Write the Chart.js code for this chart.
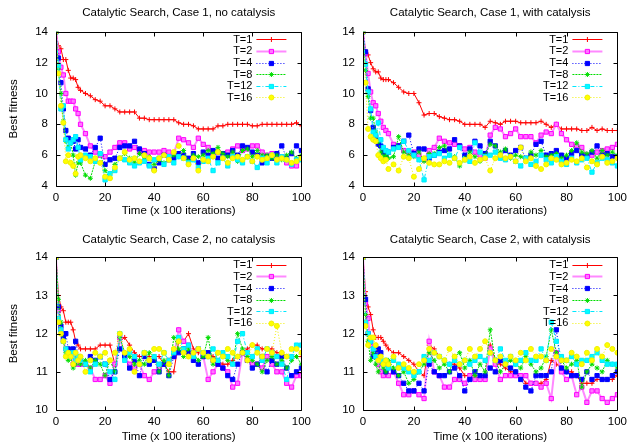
<!DOCTYPE html>
<html>
<head>
<meta charset="utf-8">
<script src="https://cdn.jsdelivr.net/npm/chart.js@4.4.1/dist/chart.umd.min.js"></script>
<style>
  html, body { margin: 0; padding: 0; background: #fff; }
  #wrap { position: relative; width: 632px; height: 444px; overflow: hidden; }
  canvas { position: absolute; }
</style>
</head>
<body>
<div id="wrap">
  <canvas id="p1" width="316" height="222" style="left:0;top:0"></canvas>
  <canvas id="p2" width="316" height="222" style="left:316px;top:0"></canvas>
  <canvas id="p3" width="316" height="222" style="left:0;top:222px"></canvas>
  <canvas id="p4" width="316" height="222" style="left:316px;top:222px"></canvas>
</div>
<script>
// time axis (x 100 iterations)
const xs = [0, 1, 2, 3, 4, 5, 6, 7, 8, 9, 10,
  12, 14, 16, 18, 20, 22, 24, 26, 28, 30, 32, 34, 36, 38, 40,
  42, 44, 46, 48, 50, 52, 54, 56, 58, 60, 62, 64, 66, 68, 70,
  72, 74, 76, 78, 80, 82, 84, 86, 88, 90, 92, 94, 96, 98, 100];

const seriesLabels = ['T=1', 'T=2', 'T=4', 'T=8', 'T=12', 'T=16'];
const panelTitles = [
  'Catalytic Search, Case 1, no catalysis',
  'Catalytic Search, Case 1, with catalysis',
  'Catalytic Search, Case 2, no catalysis',
  'Catalytic Search, Case 2, with catalysis'
];
const xTitle = 'Time (x 100 iterations)';
const yTitle = 'Best fitness';
const xTicks = [0, 20, 40, 60, 80, 100];
const yTicksCase1 = [4, 6, 8, 10, 12, 14];
const yTicksCase2 = [10, 11, 12, 13, 14];

// Case 1, no catalysis
const c1NoCatT1 = [14, 13.1, 12.9, 12.2, 12.2, 11.5, 11.0, 11.0, 10.9, 10.4, 10.2,
  10.0, 9.85, 9.6, 9.5, 9.2, 9.2, 9.0, 8.8, 8.8, 8.8, 8.8, 8.4, 8.4, 8.3, 8.3,
  8.3, 8.3, 8.3, 8.3, 8.1, 8.0, 8.0, 7.9, 7.7, 7.7, 7.7, 7.7, 7.9, 7.9, 8.0,
  8.0, 8.0, 8.0, 8.0, 7.9, 7.9, 8.0, 8.0, 8.0, 8.0, 8.0, 8.0, 8.0, 8.1, 7.9];
const c1NoCatT2 = [14, 12.7, 11.7, 11.2, 10.0, 9.5, 9.5, 9.5, 9.0, 8.7, 8.0,
  7.4, 6.6, 6.2, 6.0, 5.9, 6.2, 6.5, 6.8, 6.8, 6.4, 6.5, 6.2, 6.3, 6.2, 6.2,
  6.2, 6.3, 6.2, 6.1, 7.1, 7.0, 6.8, 6.5, 7.1, 6.7, 6.5, 6.2, 6.2, 6.1, 6.2,
  6.4, 6.6, 6.3, 6.4, 6.6, 6.6, 6.2, 6.0, 6.1, 6.0, 5.9, 5.5, 5.3, 5.3, 5.8];
const c1NoCatT4 = [14, 12.3, 10.7, 9.0, 7.6, 7.1, 7.0, 6.9, 6.4, 7.0, 6.5,
  6.4, 6.0, 6.5, 7.1, 5.4, 5.7, 5.8, 6.5, 6.6, 6.6, 6.9, 6.4, 6.1, 5.4, 5.1,
  5.5, 6.0, 5.7, 5.8, 6.1, 6.0, 5.8, 6.1, 5.5, 6.2, 6.0, 6.3, 5.8, 6.1, 6.0,
  6.3, 6.0, 6.6, 6.5, 6.2, 6.0, 5.5, 5.9, 5.8, 6.1, 6.6, 5.8, 6.1, 6.6, 6.3];
const c1NoCatT8 = [14, 11.6, 10.0, 8.2, 6.9, 6.5, 6.8, 6.0, 4.7, 5.5, 5.5,
  4.7, 4.5, 5.6, 6.1, 5.0, 4.5, 5.4, 5.8, 6.1, 5.8, 5.5, 6.1, 5.7, 5.9, 5.4,
  5.7, 5.5, 5.8, 6.0, 5.9, 6.3, 5.6, 6.0, 5.9, 6.0, 6.3, 6.1, 6.5, 6.1, 5.9,
  6.2, 5.6, 6.3, 6.4, 5.9, 6.3, 6.0, 6.0, 5.8, 6.0, 5.7, 6.0, 6.2, 5.8, 6.0];
const c1NoCatT12 = [14, 11.8, 9.0, 9.2, 7.0, 6.4, 6.8, 7.0, 7.2, 6.5, 5.7,
  6.0, 5.9, 5.6, 6.1, 4.4, 4.8, 5.0, 5.8, 5.7, 5.5, 5.3, 5.5, 5.6, 5.3, 5.7,
  5.8, 5.4, 5.9, 5.5, 5.9, 5.8, 5.5, 5.7, 5.2, 5.6, 5.8, 5.0, 5.5, 5.8, 5.3,
  5.9, 5.7, 5.5, 5.9, 5.6, 5.2, 5.8, 5.5, 6.0, 5.5, 5.9, 5.7, 5.4, 5.7, 5.7];
const c1NoCatT16 = [14, 11.3, 9.2, 8.1, 5.6, 6.0, 5.5, 5.3, 4.8, 5.9, 6.0,
  5.8, 5.6, 5.8, 5.5, 4.6, 4.5, 5.2, 5.8, 6.2, 5.7, 5.8, 5.6, 6.0, 5.8, 5.0,
  5.8, 6.0, 5.7, 6.2, 6.6, 5.8, 5.4, 5.8, 5.0, 5.7, 5.6, 5.9, 6.2, 5.8, 5.5,
  5.8, 5.9, 5.7, 5.9, 5.6, 5.9, 5.7, 5.8, 6.0, 5.7, 5.8, 5.7, 5.5, 5.6, 5.8];

// Case 1, with catalysis
const c1CatT1 = [14, 12.8, 12.5, 12.0, 11.6, 11.4, 11.4, 11.0, 10.9, 10.9, 10.9,
  10.7, 10.4, 10.1, 10.0, 10.0, 9.4, 8.6, 8.7, 8.7, 8.5, 8.4, 8.3, 8.3, 8.2, 8.0,
  8.0, 8.0, 8.0, 7.8, 8.2, 8.1, 8.0, 8.2, 8.2, 8.2, 8.1, 8.1, 8.1, 8.1, 8.2,
  8.0, 7.8, 8.0, 7.7, 7.7, 7.7, 7.7, 7.6, 7.6, 7.8, 7.6, 7.7, 7.6, 7.6, 7.6];
const c1CatT2 = [14, 12.6, 11.3, 10.1, 9.4, 9.2, 8.7, 8.2, 7.8, 7.6, 7.4,
  6.7, 6.6, 6.3, 6.2, 6.2, 6.0, 5.7, 6.3, 6.5, 7.1, 6.9, 6.8, 6.7, 6.6, 6.4,
  6.5, 6.2, 6.0, 5.8, 7.3, 7.8, 7.7, 7.2, 7.4, 7.7, 7.2, 7.2, 7.2, 6.8, 7.3,
  7.5, 7.4, 8.0, 7.4, 7.0, 6.7, 6.6, 6.5, 6.0, 6.0, 6.2, 6.3, 6.4, 6.5, 6.7];
const c1CatT4 = [14, 12.7, 10.3, 8.9, 7.8, 7.2, 6.7, 6.6, 6.2, 6.0, 6.2,
  6.5, 6.6, 6.9, 7.3, 6.1, 6.4, 6.4, 5.8, 6.0, 6.2, 6.3, 6.4, 7.0, 6.6, 6.0,
  6.4, 6.9, 6.6, 6.1, 6.9, 6.6, 5.9, 6.3, 6.0, 6.3, 6.5, 5.8, 6.0, 6.7, 6.9,
  6.0, 6.1, 6.3, 6.0, 5.8, 6.1, 6.3, 6.0, 5.9, 6.2, 6.6, 6.0, 6.1, 5.9, 5.9];
const c1CatT8 = [14, 11.5, 9.8, 8.4, 8.4, 7.5, 6.9, 6.2, 5.9, 6.0, 5.8,
  5.9, 7.2, 6.2, 6.0, 5.9, 6.2, 5.6, 6.1, 6.1, 6.5, 6.6, 6.0, 5.9, 5.3, 5.8,
  6.2, 5.9, 5.6, 6.0, 6.7, 6.6, 6.2, 6.4, 5.8, 6.0, 5.9, 5.7, 6.2, 6.0, 6.3,
  5.9, 6.0, 6.1, 5.8, 6.0, 6.3, 6.8, 6.2, 6.1, 6.3, 5.8, 6.3, 6.0, 6.2, 6.0];
const c1CatT12 = [14, 11.9, 10.1, 9.0, 7.5, 7.3, 8.1, 7.0, 6.5, 6.3, 6.2,
  6.4, 6.5, 6.9, 6.3, 6.0, 5.7, 4.4, 5.9, 6.0, 6.1, 5.8, 6.0, 5.8, 6.5, 5.7,
  5.6, 6.8, 6.2, 5.9, 6.0, 6.2, 5.8, 5.7, 5.9, 5.6, 5.3, 5.8, 5.4, 5.6, 6.0,
  5.7, 5.5, 5.9, 5.6, 5.4, 5.8, 5.5, 5.7, 5.8, 4.9, 5.5, 5.8, 5.7, 5.5, 5.3];
const c1CatT16 = [14, 10.7, 7.7, 7.2, 7.0, 6.9, 6.0, 5.8, 5.6, 5.7, 5.1,
  5.4, 5.0, 5.9, 5.8, 4.6, 5.1, 5.8, 5.5, 5.4, 5.4, 5.6, 5.5, 5.8, 5.5, 5.7,
  5.9, 5.5, 5.7, 5.8, 5.0, 5.8, 6.0, 5.8, 5.9, 5.6, 6.5, 5.6, 5.8, 5.3, 5.1,
  5.4, 5.8, 5.7, 5.4, 5.5, 5.7, 5.6, 5.8, 5.2, 5.6, 5.4, 5.9, 5.5, 5.6, 5.8];

// Case 2, no catalysis
const c2NoCatT1 = [14, 13.0, 12.7, 12.6, 12.3, 12.3, 12.3, 12.1, 11.8, 11.7, 11.6,
  11.6, 11.6, 11.6, 11.7, 11.7, 11.7, 11.2, 11.8, 11.9, 11.7, 11.5, 11.4, 11.4, 11.4, 11.4,
  11.4, 11.2, 11.0, 11.0, 11.8, 11.8, 12.0, 11.6, 11.5, 11.5, 11.5, 11.4, 11.3, 11.2, 11.2,
  11.3, 11.4, 11.5, 11.6, 11.7, 11.7, 11.6, 11.6, 11.6, 11.5, 11.5, 11.4, 11.4, 11.4, 11.4];
const c2NoCatT2 = [14, 12.6, 12.1, 11.8, 11.6, 11.5, 11.4, 11.2, 11.3, 11.2, 11.2,
  11.2, 11.1, 10.8, 10.8, 10.9, 10.7, 11.2, 11.9, 11.4, 11.2, 11.1, 11.2, 10.9, 10.8, 11.0,
  11.1, 11.2, 11.3, 11.4, 12.1, 11.8, 11.7, 11.5, 11.6, 11.4, 10.8, 11.0, 11.2, 11.1, 11.0,
  10.6, 10.7, 11.5, 11.3, 11.2, 11.2, 11.1, 11.4, 11.2, 11.0, 11.0, 10.7, 10.6, 10.9, 10.9];
const c2NoCatT4 = [14, 12.7, 12.2, 11.9, 12.0, 11.6, 11.5, 11.6, 11.8, 11.4, 11.3,
  11.2, 11.4, 11.3, 11.4, 11.2, 10.8, 11.0, 11.6, 11.4, 11.1, 11.3, 10.9, 11.4, 11.2, 11.3,
  11.0, 11.2, 10.9, 11.4, 11.5, 11.6, 11.5, 11.3, 11.2, 11.4, 11.5, 11.3, 11.2, 11.1, 10.9,
  10.8, 11.2, 11.5, 11.3, 11.1, 11.2, 11.4, 11.0, 11.3, 11.2, 11.4, 11.1, 10.9, 11.0, 11.1];
const c2NoCatT8 = [14, 12.9, 12.3, 11.8, 11.5, 11.3, 11.4, 11.1, 11.2, 11.4, 11.2,
  11.3, 11.1, 11.3, 11.2, 10.9, 11.3, 11.0, 11.9, 11.5, 11.4, 11.2, 11.3, 11.2, 11.5, 11.4,
  11.0, 11.3, 10.9, 11.9, 11.6, 11.4, 11.6, 11.5, 11.3, 11.4, 11.9, 11.2, 11.5, 11.4, 11.3,
  11.2, 12.0, 11.6, 11.4, 11.3, 11.2, 11.0, 11.3, 11.4, 11.2, 11.3, 11.1, 11.3, 11.4, 11.2];
const c2NoCatT12 = [14, 12.4, 12.1, 11.8, 11.6, 11.5, 11.4, 11.5, 11.3, 11.4, 11.3,
  11.2, 11.0, 11.2, 11.4, 11.2, 11.0, 10.8, 12.0, 11.3, 11.5, 11.4, 11.2, 11.5, 11.3, 11.4,
  11.2, 11.5, 11.3, 11.5, 11.9, 11.6, 11.7, 11.4, 11.6, 11.5, 11.4, 11.6, 11.3, 11.5, 11.4,
  11.2, 11.8, 12.0, 11.5, 11.4, 11.6, 11.3, 11.6, 11.5, 11.4, 11.2, 10.8, 11.4, 11.7, 11.7];
const c2NoCatT16 = [14, 12.3, 12.0, 11.8, 11.4, 11.5, 11.4, 11.2, 11.5, 11.3, 11.4,
  11.0, 11.3, 11.5, 11.4, 11.5, 11.3, 11.5, 12.0, 11.5, 11.6, 11.0, 11.2, 11.5, 11.3, 11.6,
  11.6, 11.5, 11.2, 11.6, 11.8, 11.5, 11.4, 11.5, 11.6, 11.5, 11.4, 11.3, 11.5, 11.4, 11.6,
  11.5, 11.4, 11.5, 11.3, 11.7, 11.5, 11.4, 11.6, 11.5, 12.2, 11.5, 11.4, 11.6, 11.6, 11.5];

// Case 2, with catalysis
const c2CatT1 = [14, 13.1, 12.7, 12.5, 12.1, 11.9, 11.9, 11.9, 11.8, 11.7, 11.6,
  11.5, 11.5, 11.4, 11.3, 11.2, 11.0, 10.9, 11.7, 11.6, 11.4, 11.3, 11.2, 11.2, 11.1, 10.9,
  10.9, 10.9, 10.8, 10.9, 11.7, 11.3, 11.2, 11.1, 11.0, 11.0, 10.9, 10.7, 10.7, 10.7, 10.7,
  10.8, 11.3, 11.2, 11.1, 11.0, 11.0, 10.9, 10.7, 10.7, 10.7, 10.8, 10.8, 10.8, 10.8, 10.9];
const c2CatT2 = [14, 12.8, 12.4, 11.7, 11.5, 11.4, 11.2, 11.0, 10.9, 11.0, 10.9,
  11.0, 10.7, 10.4, 10.4, 10.5, 10.4, 10.3, 11.8, 11.0, 10.9, 10.6, 10.6, 10.8, 10.8, 10.7,
  10.9, 10.8, 10.8, 10.8, 11.6, 11.2, 10.8, 10.9, 10.9, 10.9, 10.9, 10.9, 10.7, 10.7, 10.6,
  10.7, 10.3, 11.5, 11.0, 10.8, 10.9, 10.4, 10.6, 10.2, 10.5, 10.5, 10.3, 10.2, 10.3, 10.4];
const c2CatT4 = [14, 12.9, 12.0, 11.8, 11.4, 11.5, 11.6, 11.5, 11.2, 11.0, 11.2,
  11.0, 10.9, 10.7, 10.5, 10.5, 10.7, 10.5, 11.2, 11.0, 10.9, 10.9, 11.0, 11.1, 10.9, 10.5,
  10.8, 11.0, 10.9, 10.9, 11.1, 11.0, 11.3, 11.2, 11.1, 11.0, 10.8, 10.6, 10.5, 10.9, 10.9,
  10.9, 11.0, 12.1, 11.1, 11.0, 10.9, 10.9, 10.8, 11.0, 10.8, 10.9, 10.8, 10.8, 10.9, 11.0];
const c2CatT8 = [14, 12.5, 11.8, 11.3, 11.5, 11.2, 11.0, 11.3, 11.1, 11.0, 11.3,
  11.1, 10.9, 11.0, 10.7, 10.8, 11.0, 11.2, 11.5, 11.3, 11.1, 11.2, 11.0, 11.4, 11.5, 11.1,
  11.3, 10.9, 11.2, 11.0, 12.1, 11.3, 11.0, 11.2, 11.3, 11.2, 11.1, 11.4, 11.2, 11.0, 11.1,
  11.4, 12.1, 11.5, 11.3, 11.1, 11.2, 11.3, 10.6, 11.0, 11.2, 11.1, 11.0, 11.3, 11.2, 11.1];
const c2CatT12 = [14, 12.3, 12.0, 11.8, 11.6, 11.4, 11.3, 11.3, 11.2, 11.3, 11.1,
  11.3, 11.2, 11.1, 11.0, 10.9, 11.0, 11.4, 11.3, 11.5, 11.4, 11.3, 11.2, 11.3, 11.2, 11.3,
  11.2, 11.3, 11.4, 11.3, 11.5, 11.3, 11.6, 11.3, 11.4, 11.2, 11.3, 11.5, 11.3, 11.3, 11.6,
  11.3, 12.3, 11.8, 11.4, 11.3, 11.4, 11.2, 11.3, 11.3, 11.4, 11.5, 11.3, 11.2, 11.2, 11.2];
const c2CatT16 = [14, 12.2, 11.7, 11.9, 11.9, 11.7, 11.3, 11.4, 11.2, 11.3, 11.2,
  11.4, 11.1, 11.2, 11.1, 11.0, 11.2, 11.3, 11.6, 11.5, 11.4, 11.3, 11.6, 11.4, 11.2, 11.3,
  11.6, 11.4, 11.6, 11.8, 11.5, 11.3, 11.4, 11.2, 11.4, 11.3, 11.5, 11.3, 11.6, 11.4, 11.4,
  11.3, 11.6, 11.4, 11.3, 11.3, 11.5, 11.4, 11.2, 11.5, 11.3, 11.6, 11.4, 11.7, 11.6, 11.5];

const FONT = '"Liberation Sans", Arial, Helvetica, sans-serif';

// gnuplot-like line types
const lineTypes = [
  { color: '#ff0000', line: '#ff0000', width: 1, dash: [], point: 'cross', radius: 2.5, fill: '#ff0000' },
  { color: '#ff00ff', line: '#ff88ff', width: 2, dash: [], point: 'rect', radius: 3, fill: '#ff77ff' },
  { color: '#0000ff', line: '#0000ff', width: 1, dash: [1, 2], point: 'rect', radius: 3, fill: '#0000ff' },
  { color: '#00dd00', line: '#00dd00', width: 1, dash: [2, 1], point: 'star', radius: 2.5, fill: '#00dd00' },
  { color: '#00e8ff', line: '#00e8ff', width: 1, dash: [4, 2, 1, 2], point: 'rect', radius: 3, fill: '#00ffff' },
  { color: '#f0f000', line: '#f0f000', width: 1, dash: [1, 2], point: 'circle', radius: 2.5, fill: '#ffff00' }
];

// border box + inward tick marks on all four sides
const framePlugin = {
  id: 'frame',
  afterDatasetsDraw(chart) {
    const { ctx, chartArea: a, scales } = chart;
    const l = Math.round(a.left) + 0.5, r = Math.round(a.right) + 0.5;
    const t = Math.round(a.top) + 0.5, b = Math.round(a.bottom) + 0.5;
    ctx.save();
    ctx.strokeStyle = '#000';
    ctx.lineWidth = 1;
    ctx.setLineDash([]);
    ctx.beginPath();
    ctx.rect(l, t, r - l, b - t);
    const tl = 4;
    scales.x.ticks.forEach((tk) => {
      const x = Math.round(scales.x.getPixelForValue(tk.value)) + 0.5;
      ctx.moveTo(x, b); ctx.lineTo(x, b - tl);
      ctx.moveTo(x, t); ctx.lineTo(x, t + tl);
    });
    scales.y.ticks.forEach((tk) => {
      const y = Math.round(scales.y.getPixelForValue(tk.value)) + 0.5;
      ctx.moveTo(l, y); ctx.lineTo(l + tl, y);
      ctx.moveTo(r, y); ctx.lineTo(r - tl, y);
    });
    ctx.stroke();
    ctx.restore();
  }
};

// key in the top right corner, text right aligned before the sample
const keyPlugin = {
  id: 'gnukey',
  afterDraw(chart) {
    const { ctx, chartArea: a } = chart;
    ctx.save();
    ctx.font = '11px ' + FONT;
    ctx.textAlign = 'right';
    ctx.textBaseline = 'middle';
    chart.data.datasets.forEach((ds, i) => {
      const lt = lineTypes[i];
      const y = a.top + 7.5 + i * 11.6;
      const yl = Math.round(y) + 0.5;
      ctx.fillStyle = '#000';
      ctx.fillText(ds.label, a.right - 49, y + 0.5);
      const x0 = a.right - 45, x1 = a.right - 15;
      ctx.strokeStyle = lt.line;
      ctx.lineWidth = lt.width;
      ctx.setLineDash(lt.dash);
      ctx.beginPath();
      ctx.moveTo(x0, yl);
      ctx.lineTo(x1, yl);
      ctx.stroke();
      ctx.setLineDash([]);
      ctx.strokeStyle = lt.color;
      ctx.fillStyle = lt.fill;
      ctx.lineWidth = 1;
      Chart.helpers.drawPoint(ctx, { pointStyle: lt.point, radius: lt.radius, borderWidth: 1, rotation: 0 }, (x0 + x1) / 2, yl);
    });
    ctx.restore();
  }
};

function makePanel(id, title, series, yTicks, showYTitle, layout) {
  const datasets = series.map((ys, i) => {
    const lt = lineTypes[i];
    return {
      label: seriesLabels[i],
      data: xs.map((x, j) => ({ x, y: ys[j] })),
      borderColor: lt.line,
      borderWidth: lt.width,
      borderDash: lt.dash,
      pointStyle: lt.point,
      pointRadius: lt.radius,
      pointBorderColor: lt.color,
      pointBackgroundColor: lt.fill,
      pointBorderWidth: 1,
      tension: 0,
      fill: false,
      order: series.length - i
    };
  });

  return new Chart(document.getElementById(id), {
    type: 'line',
    data: { datasets },
    options: {
      responsive: false,
      animation: false,
      layout: { padding: { left: layout.padLeft, right: layout.padRight, top: 0, bottom: 0 } },
      plugins: {
        legend: { display: false },
        tooltip: { enabled: false },
        title: {
          display: true,
          text: title,
          fullSize: false,
          color: '#000',
          font: { family: FONT, size: 11.5, weight: 'normal' },
          padding: { top: layout.titleTop, bottom: layout.titleBottom }
        }
      },
      scales: {
        x: {
          type: 'linear',
          min: 0,
          max: 100,
          afterBuildTicks: (scale) => { scale.ticks = xTicks.map((v) => ({ value: v })); },
          afterFit: (scale) => { scale.height = layout.xHeight; },
          grid: { display: false, drawTicks: false },
          border: { display: false },
          ticks: { color: '#000', padding: 5, maxRotation: 0, font: { family: FONT, size: 11.5 } },
          title: { display: true, text: xTitle, color: '#000', padding: { top: 2, bottom: layout.xTitleBottom }, font: { family: FONT, size: 11.5 } }
        },
        y: {
          min: yTicks[0],
          max: yTicks[yTicks.length - 1],
          afterBuildTicks: (scale) => { scale.ticks = yTicks.map((v) => ({ value: v })); },
          afterFit: (scale) => { scale.width = layout.yWidth; },
          grid: { display: false, drawTicks: false },
          border: { display: false },
          ticks: { color: '#000', padding: 8, font: { family: FONT, size: 11.5 } },
          title: { display: showYTitle, text: yTitle, color: '#000', padding: { top: 4, bottom: 4 }, font: { family: FONT, size: 11.5 } }
        }
      }
    },
    plugins: [framePlugin, keyPlugin]
  });
}

const topLeft = { padLeft: 3, padRight: 13, yWidth: 53, xHeight: 36, titleTop: 6, titleBottom: 12, xTitleBottom: 4 };
const topRight = { padLeft: 0, padRight: 12, yWidth: 47, xHeight: 36, titleTop: 6, titleBottom: 12, xTitleBottom: 4 };
const botLeft = { padLeft: 3, padRight: 13, yWidth: 53, xHeight: 34, titleTop: 10.5, titleBottom: 11, xTitleBottom: 0 };
const botRight = { padLeft: 0, padRight: 12, yWidth: 47, xHeight: 34, titleTop: 10.5, titleBottom: 11, xTitleBottom: 0 };

makePanel('p1', panelTitles[0], [c1NoCatT1, c1NoCatT2, c1NoCatT4, c1NoCatT8, c1NoCatT12, c1NoCatT16], yTicksCase1, true, topLeft);
makePanel('p2', panelTitles[1], [c1CatT1, c1CatT2, c1CatT4, c1CatT8, c1CatT12, c1CatT16], yTicksCase1, false, topRight);
makePanel('p3', panelTitles[2], [c2NoCatT1, c2NoCatT2, c2NoCatT4, c2NoCatT8, c2NoCatT12, c2NoCatT16], yTicksCase2, true, botLeft);
makePanel('p4', panelTitles[3], [c2CatT1, c2CatT2, c2CatT4, c2CatT8, c2CatT12, c2CatT16], yTicksCase2, false, botRight);
</script>
</body>
</html>
